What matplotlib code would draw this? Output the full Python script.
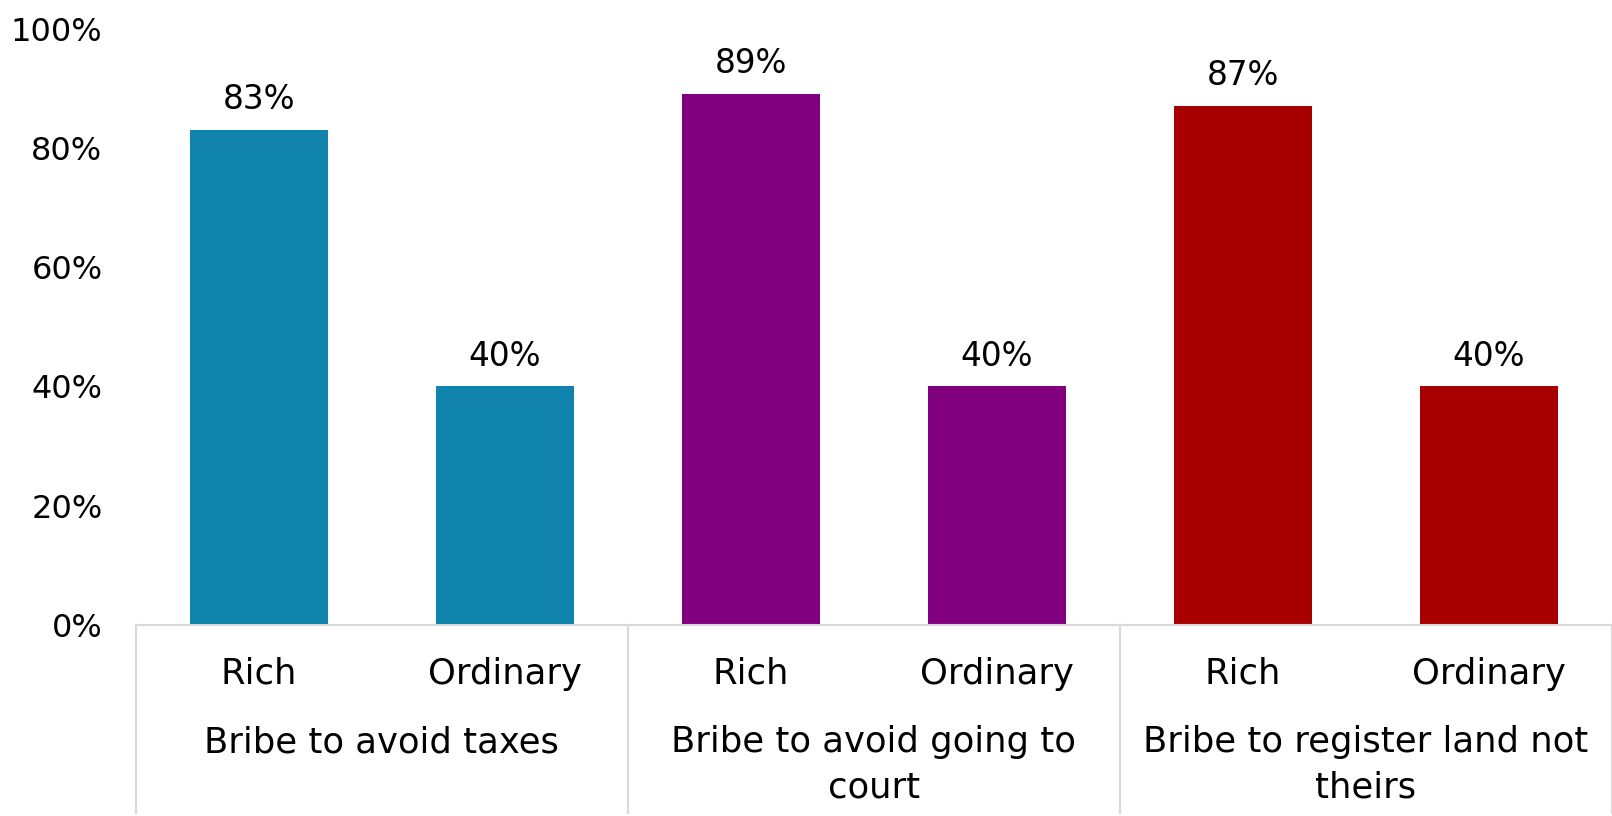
import matplotlib.pyplot as plt
from matplotlib.ticker import PercentFormatter
import matplotlib.transforms as mtransforms

groups = ["Bribe to avoid taxes", "Bribe to avoid going to\ncourt", "Bribe to register land not\ntheirs"]
subgroups = ["Rich", "Ordinary"]
rich = [83, 89, 87]
ordinary = [40, 40, 40]
colors = ["#1184AD", "#800080", "#A80000"]

plt.rcParams['font.family'] = ['DejaVu Sans']

fig = plt.figure(figsize=(16.12, 8.16), dpi=100)
ax = fig.add_axes([0.0842, 0.234, 0.9158, 0.731])

xs, vals, cols = [], [], []
for i in range(len(groups)):
    xs += [2 * i, 2 * i + 1]
    vals += [rich[i], ordinary[i]]
    cols += [colors[i], colors[i]]

bars = ax.bar(xs, vals, width=0.56, color=cols)
for b, v in zip(bars, vals):
    ax.annotate(f"{v}%", (b.get_x() + b.get_width() / 2, v), xytext=(0, 10),
                textcoords="offset points", ha="center", va="bottom", fontsize=23.5)

ax.set_xlim(-0.5, 5.5)
ax.set_ylim(0, 100)
ax.set_yticks(range(0, 101, 20))
ax.yaxis.set_major_formatter(PercentFormatter(decimals=0))
ax.tick_params(axis="y", length=0, pad=24, labelsize=23)
ax.set_xticks([])

for s in ["top", "right", "left"]:
    ax.spines[s].set_visible(False)
ax.spines["bottom"].set_color("#D9D9D9")
ax.spines["bottom"].set_linewidth(1.5)

# multi-level category axis below the bars
trans = mtransforms.blended_transform_factory(ax.transData, ax.transAxes)
for x in xs:
    ax.text(x, -0.082, subgroups[x % 2], transform=trans, ha="center", va="center", fontsize=25.5)
for i, g in enumerate(groups):
    ax.text(2 * i + 0.5, -0.168, g, transform=trans, ha="center", va="top",
            fontsize=25.5, linespacing=1.4)
for sx in [-0.5, 1.5, 3.5, 5.5]:
    ax.plot([sx, sx], [0, -0.315], transform=trans, color="#D9D9D9", lw=1.5, clip_on=False)

fig.savefig("out.png", dpi=100)
